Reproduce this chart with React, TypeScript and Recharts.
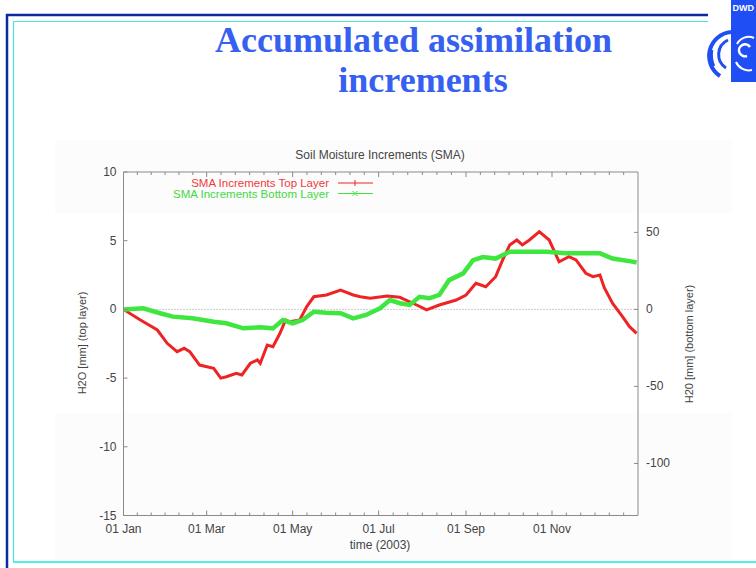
import React from 'react';
import { LineChart, Line, XAxis, YAxis, ReferenceLine, Legend } from 'recharts';

// ---- data (day of year 2003, 0 = 01 Jan) ----
const topLayerDays = [0, 12, 24, 31, 38, 43, 47, 54, 64, 69, 73, 80, 84, 90, 95, 97, 102, 106, 111, 115, 118, 125, 130, 135, 144, 154, 163, 168, 175, 187, 196, 208, 215, 224, 236, 243, 250, 257, 264, 269, 274, 279, 283, 288, 295, 302, 309, 316, 321, 328, 333, 338, 341, 347, 354, 359, 364];
const topLayerValues = [0, -0.77, -1.5, -2.47, -3.08, -2.83, -3.08, -4.05, -4.29, -5.0, -4.9, -4.65, -4.77, -3.92, -3.68, -3.92, -2.59, -2.71, -1.74, -0.77, -0.9, -0.77, 0.2, 0.92, 1.05, 1.41, 1.05, 0.92, 0.81, 0.97, 0.88, 0.32, -0.04, 0.32, 0.68, 1.05, 1.9, 1.65, 2.38, 3.6, 4.69, 5.05, 4.69, 5.05, 5.66, 5.05, 3.47, 3.84, 3.6, 2.63, 2.38, 2.5, 1.6, 0.44, -0.53, -1.26, -1.74];

const bottomLayerDays = [0, 14, 26, 35, 49, 64, 73, 85, 97, 106, 113, 120, 127, 135, 144, 154, 163, 172, 182, 189, 196, 203, 210, 217, 224, 231, 241, 248, 255, 264, 274, 285, 300, 314, 328, 338, 347, 361, 364];
const bottomLayerValues = [0, 0.7, -2.5, -4.7, -5.8, -8, -9, -12.3, -11.6, -12.3, -6.9, -9, -6.9, -1.5, -2.1, -2.5, -5.8, -3.6, 0.7, 6.1, 4, 2.9, 8.2, 7.2, 9.4, 19, 23.4, 32, 34, 33, 37.5, 37.5, 37.5, 36.4, 36.4, 36.4, 33, 31, 30.5];

const monthTickDays = [0, 59, 120, 181, 243, 304];
const monthTickLabels = ['01 Jan', '01 Mar', '01 May', '01 Jul', '01 Sep', '01 Nov'];
const leftAxisTicks = [-15, -10, -5, 0, 5, 10];
const rightAxisTicks = [-100, -50, 0, 50];
const seriesNames = ['SMA Increments Top Layer', 'SMA Increments Bottom Layer'];

const X_END = 365;
const LEFT_DOMAIN: [number, number] = [-15, 10];
const RIGHT_DOMAIN: [number, number] = [-133.8, 89.2];

const RED = '#ee2424';
const GREEN = '#3fe63f';
const AXIS = '#8a8a8a';
const TXT = '#444';
const FONT = '"Liberation Sans", Arial, sans-serif';

// minor ticks: each 2-month span split in 6
const allXTicks: number[] = [];
monthTickDays.forEach((d, i) => {
  const next = i + 1 < monthTickDays.length ? monthTickDays[i + 1] : X_END;
  for (let k = 0; k < 6; k++) {
    const v = d + (k * (next - d)) / 6;
    if (v < X_END - 1) allXTicks.push(v);
  }
});

const rowMap = new Map<number, any>();
topLayerDays.forEach((d, i) => {
  const r = rowMap.get(d) || { day: d };
  r.top = topLayerValues[i];
  rowMap.set(d, r);
});
bottomLayerDays.forEach((d, i) => {
  const r = rowMap.get(d) || { day: d };
  r.bottom = bottomLayerValues[i];
  rowMap.set(d, r);
});
const tableData = Array.from(rowMap.values()).sort((a, b) => a.day - b.day);

const isMajor = (v: number) => monthTickDays.indexOf(v);

const BottomTick = (p: any) => {
  const { x, y, payload } = p;
  const i = isMajor(payload.value);
  return (
    <g>
      <line x1={x} y1={y} x2={x} y2={y - (i >= 0 ? 5 : 3)} stroke={AXIS} strokeWidth={1} />
      {i >= 0 && (
        <text x={x} y={y + 17} textAnchor="middle" fontSize={12} fill={TXT} fontFamily={FONT}>
          {monthTickLabels[i]}
        </text>
      )}
    </g>
  );
};

const TopTick = (p: any) => {
  const { x, y, payload } = p;
  const i = isMajor(payload.value);
  return <line x1={x} y1={y} x2={x} y2={y + (i >= 0 ? 5 : 3)} stroke={AXIS} strokeWidth={1} />;
};

const LeftTick = (p: any) => {
  const { x, y, payload } = p;
  return (
    <g>
      <line x1={x} y1={y} x2={x + 4} y2={y} stroke={AXIS} strokeWidth={1} />
      <text x={x - 7} y={y + 4} textAnchor="end" fontSize={12} fill={TXT} fontFamily={FONT}>
        {payload.value}
      </text>
    </g>
  );
};

const RightTick = (p: any) => {
  const { x, y, payload } = p;
  return (
    <g>
      <line x1={x - 4} y1={y} x2={x} y2={y} stroke={AXIS} strokeWidth={1} />
      <text x={x + 8} y={y + 4} textAnchor="start" fontSize={12} fill={TXT} fontFamily={FONT}>
        {payload.value}
      </text>
    </g>
  );
};

const LegendBox = () => (
  <svg width={240} height={30} style={{ display: 'block', overflow: 'visible' }}>
    <text x={179} y={11.5} textAnchor="end" fontSize={11.5} fill="#f03a3a" fontFamily={FONT}>
      {seriesNames[0]}
    </text>
    <line x1={188} y1={8} x2={223} y2={8} stroke={RED} strokeWidth={1} />
    <line x1={205} y1={5} x2={205} y2={11} stroke={RED} strokeWidth={1} />
    <text x={179} y={22.5} textAnchor="end" fontSize={11.5} fill="#45d845" fontFamily={FONT}>
      {seriesNames[1]}
    </text>
    <line x1={188} y1={18.5} x2={223} y2={18.5} stroke={GREEN} strokeWidth={1} />
    <line x1={202.5} y1={16} x2={207.5} y2={21} stroke={GREEN} strokeWidth={1} />
    <line x1={202.5} y1={21} x2={207.5} y2={16} stroke={GREEN} strokeWidth={1} />
  </svg>
);

const Background = () => (
  <svg width={756} height={568} style={{ position: 'absolute', left: 0, top: 0 }}>
    <rect x={0} y={0} width={756} height={568} fill="#ffffff" />
    <rect x={55} y={140} width={677} height={73} fill="#fcfcfc" />
    <rect x={55} y={413} width={677} height={147} fill="#fcfcfc" />
    {/* slide frame */}
    <line x1={6} y1={15} x2={708} y2={15} stroke="#0b2a9e" strokeWidth={2.5} />
    <line x1={7} y1={14} x2={7} y2={568} stroke="#0b2a9e" strokeWidth={2.5} />
    <line x1={13} y1={21.5} x2={708} y2={21.5} stroke="#45e6e0" strokeWidth={1.2} />
    <line x1={13.5} y1={21} x2={13.5} y2={562} stroke="#45e6e0" strokeWidth={1.2} />
    <line x1={13} y1={562} x2={756} y2={562} stroke="#55efe8" strokeWidth={2} />
    {/* logo */}
    <rect x={731} y={0} width={25} height={82} fill="#1f4ef5" />
    <text x={732.5} y={11} fill="#fff" fontFamily={FONT} fontWeight="bold" fontSize={9}>DWD</text>
    <path d="M 731 32 A 24 24 0 0 0 720 76" stroke="#1f4ef5" strokeWidth={4} fill="none" />
    <path d="M 728 40 A 16 16 0 0 0 726 68" stroke="#1f4ef5" strokeWidth={3} fill="none" />
    <path d="M 712 50 A 28 28 0 0 0 714 66" stroke="#1f4ef5" strokeWidth={2.5} fill="none" />
    <path d="M 750 47 A 6 6 0 1 0 747 56" stroke="#fff" strokeWidth={2.5} fill="none" />
    <path d="M 754 38 A 13 13 0 0 0 737 44" stroke="#fff" strokeWidth={2} fill="none" />
    <path d="M 736 62 A 14 14 0 0 0 752 70" stroke="#fff" strokeWidth={2} fill="none" />
    {/* slide title */}
    <text x={413.5} y={52} textAnchor="middle" fontFamily='"Liberation Serif", "Times New Roman", serif' fontWeight="bold" fontSize={36} fill="#3560f0">
      Accumulated assimilation
    </text>
    <text x={423} y={92} textAnchor="middle" fontFamily='"Liberation Serif", "Times New Roman", serif' fontWeight="bold" fontSize={36} fill="#3560f0">
      increments
    </text>
    {/* chart titles */}
    <text x={380} y={159} textAnchor="middle" fontSize={12} fill={TXT} fontFamily={FONT}>
      Soil Moisture Increments (SMA)
    </text>
    <text x={380} y={549} textAnchor="middle" fontSize={12} fill={TXT} fontFamily={FONT}>
      time (2003)
    </text>
    <text transform="translate(86,343) rotate(-90)" textAnchor="middle" fontSize={11} fill={TXT} fontFamily={FONT}>
      H2O [mm] (top layer)
    </text>
    <text transform="translate(693,344) rotate(-90)" textAnchor="middle" fontSize={11} fill={TXT} fontFamily={FONT}>
      H20 [mm] (bottom layer)
    </text>
  </svg>
);

export default function App() {
  return (
    <div style={{ position: 'absolute', left: 0, top: 0, width: 756, height: 568, fontFamily: FONT, overflow: 'hidden' }}>
      <Background />
      <div style={{ position: 'absolute', left: 0, top: 0 }}>
        <LineChart
          width={756}
          height={568}
          data={tableData}
          margin={{ top: 171, right: 78, bottom: 51.5, left: 83.5 }}
        >
          <XAxis
            xAxisId="bottom"
            type="number"
            dataKey="day"
            domain={[0, X_END]}
            ticks={allXTicks}
            interval={0}
            height={1}
            tickSize={0}
            tickMargin={0}
            tickLine={false}
            axisLine={{ stroke: AXIS }}
            tick={(p: any) => <BottomTick {...p} />}
            allowDataOverflow
          />
          <XAxis
            xAxisId="top"
            orientation="top"
            type="number"
            dataKey="day"
            domain={[0, X_END]}
            ticks={allXTicks}
            interval={0}
            height={1}
            tickSize={0}
            tickMargin={0}
            tickLine={false}
            axisLine={{ stroke: AXIS }}
            tick={(p: any) => <TopTick {...p} />}
            allowDataOverflow
          />
          <YAxis
            yAxisId="left"
            type="number"
            domain={LEFT_DOMAIN}
            ticks={leftAxisTicks}
            interval={0}
            width={40}
            tickSize={0}
            tickMargin={0}
            tickLine={false}
            axisLine={{ stroke: AXIS }}
            tick={(p: any) => <LeftTick {...p} />}
            allowDataOverflow
          />
          <YAxis
            yAxisId="right"
            orientation="right"
            type="number"
            domain={RIGHT_DOMAIN}
            ticks={rightAxisTicks}
            interval={0}
            width={40}
            tickSize={0}
            tickMargin={0}
            tickLine={false}
            axisLine={{ stroke: AXIS }}
            tick={(p: any) => <RightTick {...p} />}
            allowDataOverflow
          />
          <ReferenceLine xAxisId="bottom" yAxisId="left" y={0} stroke="#9a9a9a" strokeDasharray="1 2" />
          <Legend
            layout="horizontal"
            verticalAlign="middle"
            align="center"
            content={() => <LegendBox />}
            wrapperStyle={{ position: 'absolute', left: 150, top: 175, width: 240, height: 30 }}
          />
          <Line
            xAxisId="bottom"
            yAxisId="left"
            type="linear"
            dataKey="top"
            name={seriesNames[0]}
            stroke={RED}
            strokeWidth={3}
            dot={false}
            connectNulls
            isAnimationActive={false}
          />
          <Line
            xAxisId="bottom"
            yAxisId="right"
            type="linear"
            dataKey="bottom"
            name={seriesNames[1]}
            stroke={GREEN}
            strokeWidth={4.5}
            dot={false}
            connectNulls
            isAnimationActive={false}
          />
        </LineChart>
      </div>
    </div>
  );
}
